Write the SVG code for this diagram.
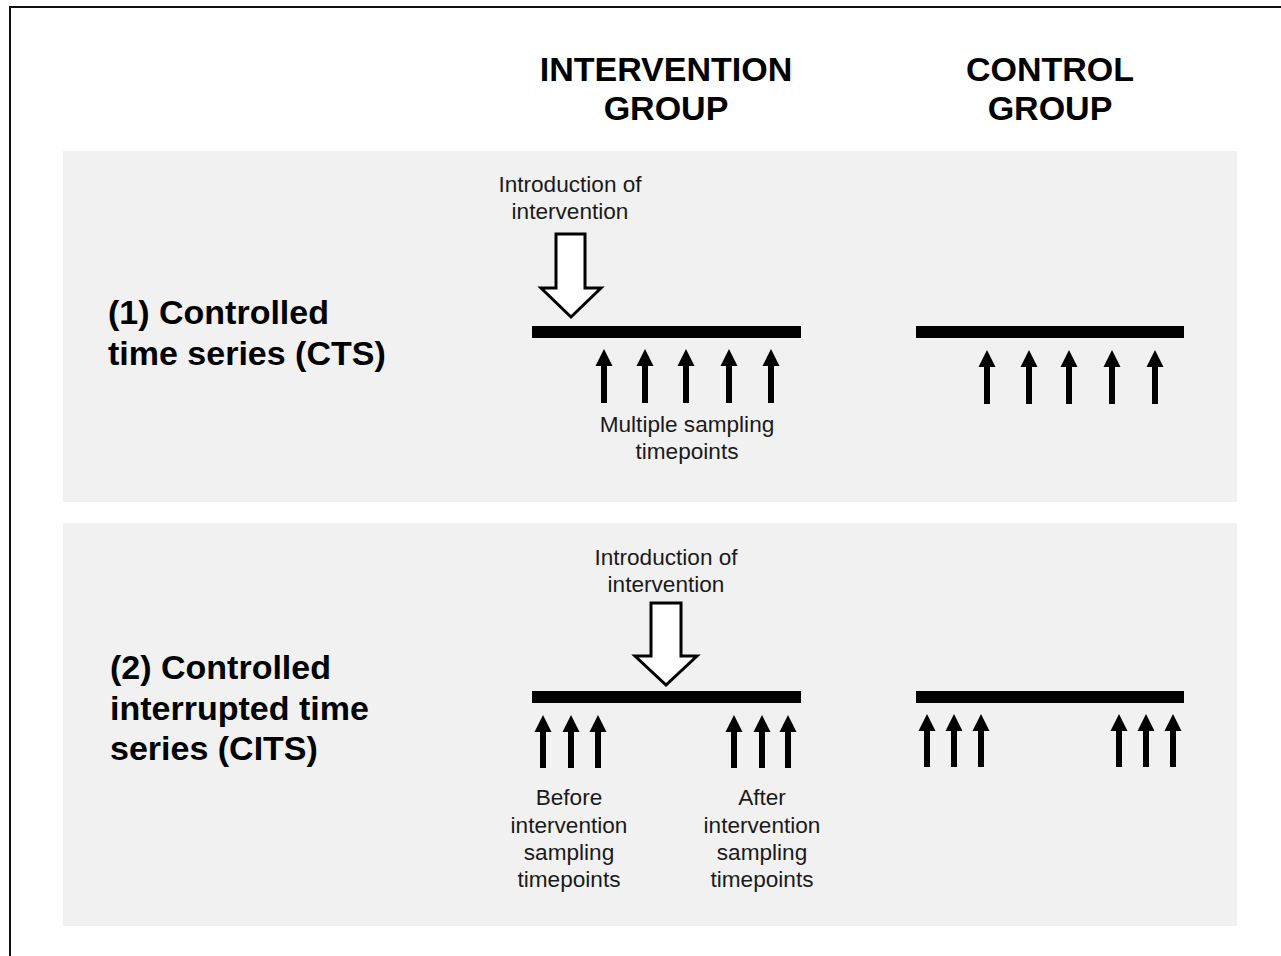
<svg xmlns="http://www.w3.org/2000/svg" xmlns:xlink="http://www.w3.org/1999/xlink" width="1281" height="956" viewBox="0 0 1281 956">
<style>
.bg{fill:#f1f1f1}
.bar{fill:#000}
.hdr{font-family:"Liberation Sans",Arial,sans-serif;font-weight:bold;font-size:34px;fill:#000;text-anchor:middle}
.lbl{font-family:"Liberation Sans",Arial,sans-serif;font-weight:bold;font-size:34px;fill:#000}
.sm{font-family:"Liberation Sans",Arial,sans-serif;font-size:22.6px;fill:#1a1a1a;text-anchor:middle}
.big{fill:#fff;stroke:#000;stroke-width:3;stroke-linejoin:miter}
</style>
<defs>
<path id="sa" d="M0,0 L8.5,17 L3,17 L3,54 L-3,54 L-3,17 L-8.5,17 Z" fill="#000"/>
<path id="sb" d="M0,0 L8.5,17 L3,17 L3,53 L-3,53 L-3,17 L-8.5,17 Z" fill="#000"/>
</defs>
<rect x="0" y="0" width="1281" height="956" fill="#fff"/>
<rect x="10" y="7" width="1300" height="1000" fill="none" stroke="#111" stroke-width="2"/>

<g id="panel1"><rect class="bg" x="63" y="151" width="1174" height="351"/></g>
<g id="panel2"><rect class="bg" x="63" y="523" width="1174" height="403"/></g>

<g id="header-intervention">
<text class="hdr" x="666" y="81">INTERVENTION</text>
<text class="hdr" x="666" y="120">GROUP</text>
</g>
<g id="header-control">
<text class="hdr" x="1050" y="81">CONTROL</text>
<text class="hdr" x="1050" y="120">GROUP</text>
</g>

<g id="label-cts">
<text class="lbl" x="108" y="324">(1) Controlled</text>
<text class="lbl" x="108" y="365">time series (CTS)</text>
</g>
<g id="label-cits">
<text class="lbl" x="110" y="679">(2) Controlled</text>
<text class="lbl" x="110" y="720">interrupted time</text>
<text class="lbl" x="110" y="760">series (CITS)</text>
</g>

<g id="cts-intervention">
<text class="sm" x="570" y="192">Introduction of</text>
<text class="sm" x="570" y="219">intervention</text>
<rect class="bar" x="532" y="326" width="269" height="12"/>
<text class="sm" x="687" y="432">Multiple sampling</text>
<text class="sm" x="687" y="459">timepoints</text>
</g>
<g id="cts-control">
<rect class="bar" x="916" y="326" width="268" height="12"/>
</g>
<g id="cits-intervention">
<text class="sm" x="666" y="565">Introduction of</text>
<text class="sm" x="666" y="592">intervention</text>
<rect class="bar" x="532" y="691" width="269" height="12"/>
<text class="sm" x="569" y="805">Before</text>
<text class="sm" x="569" y="833">intervention</text>
<text class="sm" x="569" y="860">sampling</text>
<text class="sm" x="569" y="887">timepoints</text>
<text class="sm" x="762" y="805">After</text>
<text class="sm" x="762" y="833">intervention</text>
<text class="sm" x="762" y="860">sampling</text>
<text class="sm" x="762" y="887">timepoints</text>
</g>
<g id="cits-control">
<rect class="bar" x="916" y="691" width="268" height="12"/>
</g>

<g id="connectors">
<path class="big" d="M556,234 L585,234 L585,288 L601,288 L571,317 L541,288 L556,288 Z"/>
<path class="big" d="M651,603 L681,603 L681,656 L697,656 L666,685 L635,656 L651,656 Z"/>
<use xlink:href="#sa" x="604" y="349"/>
<use xlink:href="#sa" x="645" y="349"/>
<use xlink:href="#sa" x="686" y="349"/>
<use xlink:href="#sa" x="729" y="349"/>
<use xlink:href="#sa" x="771" y="349"/>
<use xlink:href="#sa" x="987" y="350"/>
<use xlink:href="#sa" x="1029" y="350"/>
<use xlink:href="#sa" x="1069" y="350"/>
<use xlink:href="#sa" x="1112" y="350"/>
<use xlink:href="#sa" x="1155" y="350"/>
<use xlink:href="#sb" x="543" y="715"/>
<use xlink:href="#sb" x="571" y="715"/>
<use xlink:href="#sb" x="598" y="715"/>
<use xlink:href="#sb" x="734" y="715"/>
<use xlink:href="#sb" x="762" y="715"/>
<use xlink:href="#sb" x="788" y="715"/>
<use xlink:href="#sb" x="927" y="714"/>
<use xlink:href="#sb" x="954" y="714"/>
<use xlink:href="#sb" x="981" y="714"/>
<use xlink:href="#sb" x="1119" y="714"/>
<use xlink:href="#sb" x="1146" y="714"/>
<use xlink:href="#sb" x="1173" y="714"/>
</g>
</svg>
